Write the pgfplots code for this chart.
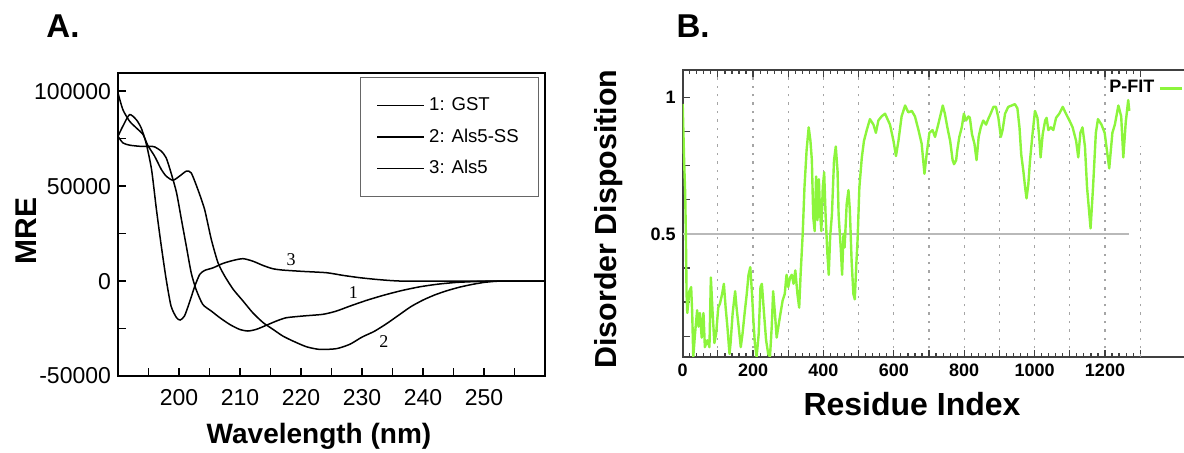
\documentclass[border=0pt]{standalone}
\usepackage{fontspec}
\setmainfont{Liberation Sans}
\newfontfamily\timesfont{Liberation Serif}
\usepackage{pgfplots}
\pgfplotsset{compat=1.18}
\definecolor{pfit}{RGB}{140,245,60}
\definecolor{gridgray}{RGB}{165,165,165}
\definecolor{halfline}{RGB}{185,185,185}

\begin{document}
\begin{tikzpicture}
% ---------------- panel A: CD spectra ----------------
\begin{axis}[
  at={(59pt,-36.5pt)}, anchor=north west,
  scale only axis, width=213.5pt, height=151.5pt,
  xmin=190, xmax=260, ymin=-50000, ymax=109600,
  axis line style={line width=0.85pt},
  tick align=inside, tick pos=left,
  scaled y ticks=false, scaled x ticks=false,
  xtick={200,210,...,250}, xticklabels={200,210,220,230,240,250},
  minor xtick={195,205,...,255},
  ytick={-50000,0,50000,100000}, yticklabels={-50000,0,50000,100000},
  minor ytick={-25000,25000,75000},
  major tick length=4pt, minor tick length=4pt,
  every tick/.style={black, line width=0.8pt},
  tick label style={font=\fontsize{11.5}{13}\selectfont},
  xticklabel style={yshift=-3pt},
  legend cell align=left,
  legend image code/.code={\draw[#1] (0pt,0pt) -- (23.5pt,0pt);},
  legend style={at={(0.567,0.987)}, anchor=north west, draw=black!60,
    line width=0.6pt, fill=white, inner xsep=8pt, inner ysep=8pt,
    row sep=3.5pt, font=\fontsize{9.3}{10}\selectfont},
  cd/.style={black, line width=0.75pt, no markers, smooth, tension=0.4},
]
\addplot[cd] coordinates {
  (190,76300) (190.8,72800) (191.9,71600) (193.6,71000) (195.2,71000)
  (196,70700) (197.1,68400) (197.9,64900) (198.7,57000) (199.6,46500)
  (200.4,32400) (201.2,18400) (202,4400) (202.8,-4400) (203.9,-12300)
  (205.3,-15800) (206.7,-19300) (208.3,-22800) (209.9,-25400) (211.3,-26300)
  (212.7,-25400) (214.3,-23300) (216,-21000) (217.6,-19300) (220.3,-18400)
  (223.6,-17500) (225.8,-15800) (228,-13200) (230.7,-10200) (233.5,-7500)
  (236.5,-5000) (239.5,-3000) (242.5,-1600) (245.5,-700) (249,-200)
  (252,0) (260,0)};
\addlegendentry{1: GST}
\addplot[cd] coordinates {
  (190,99100) (190.8,90300) (191.9,84200) (193,80700) (194.1,77200)
  (194.9,71400) (196,65800) (197.1,58800) (197.9,55300) (199,53100)
  (200.1,55300) (201.2,57900) (202,57000) (203.1,48200) (204.2,37700)
  (205.3,21900) (206.4,9600) (207.5,2600) (208.9,-4400) (210.5,-10500)
  (212.1,-16700) (213.8,-21900) (215.4,-25400) (217,-28900) (218.7,-31600)
  (220.9,-34600) (223.1,-36000) (225.8,-35600) (228,-33300) (230,-29500)
  (232,-26500) (234,-22500) (236,-18000) (238,-13500) (240,-10000)
  (242,-7200) (244,-5000) (246,-3200) (248,-1800) (250,-700)
  (252,-100) (254,0) (260,0)};
\addlegendentry{2: Als5-SS}
\addplot[cd] coordinates {
  (190,76300) (190.8,81600) (191.9,87700) (193,85000) (193.8,80700)
  (194.6,72800) (195.5,58800) (196.3,37700) (197.1,18400) (197.9,900)
  (198.7,-13200) (199.6,-19300) (200.2,-20500) (200.9,-18400) (201.7,-11400)
  (202.6,-2600) (203.4,3500) (204.2,5600) (205.6,7000) (207.2,9300)
  (208.9,10900) (210.5,11800) (212.1,10500) (213.8,8200) (215.4,6500)
  (217,5800) (220.3,5100) (224.2,4400) (226.9,3000) (229.6,1800)
  (232.3,900) (235.1,200) (238,0) (260,0)};
\addlegendentry{3: Als5}
\node[font=\timesfont\fontsize{9}{10}\selectfont] at (axis cs:218.4,11400) {3};
\node[font=\timesfont\fontsize{9}{10}\selectfont] at (axis cs:228.6,-6100) {1};
\node[font=\timesfont\fontsize{9}{10}\selectfont] at (axis cs:233.6,-31600) {2};
\end{axis}

% ---------------- panel B: disorder prediction ----------------
\begin{axis}[
  at={(341.35pt,-35pt)}, anchor=north west,
  scale only axis, width=262pt, height=143.35pt,
  xmin=0, xmax=1489, ymin=0.05, ymax=1.1,
  axis line style={draw=black!75, line width=0.8pt},
  tick align=inside, ytick pos=left,
  xtick={0,100,...,1200},
  xticklabels={0,,200,,400,,600,,800,,1000,,1200},
  extra x ticks={1300}, extra x tick labels={}, extra x tick style={grid=none},
  minor xtick={20,40,...,1280},
  xmajorgrids,
  major grid style={gridgray, dash pattern=on 1.2pt off 3pt, line width=0.6pt},
  ytick={0.125,0.25,0.375,0.5,0.625,0.75,0.875,1},
  yticklabels={,,,0.5,,,,1},
  major tick length=3.5pt, minor tick length=2pt,
  every tick/.style={black!75, line width=0.6pt},
  tick label style={font=\bfseries\fontsize{9}{10}\selectfont},
  legend plot pos=right,
  legend image code/.code={\draw[#1] (0pt,0pt) -- (11pt,0pt);},
  legend style={at={(axis cs:1422,1.033)}, anchor=east, draw=none, fill=none,
    inner sep=0pt, font=\bfseries\fontsize{9}{10}\selectfont},
]
\addplot[halfline, line width=0.9pt, forget plot] coordinates {(0,0.5) (1268,0.5)};
\addplot[gridgray, dash pattern=on 1.2pt off 3pt, line width=0.6pt, forget plot]
  coordinates {(1300,0.05) (1300,0.82)};
\addplot[pfit, line width=1.2pt, line join=round] coordinates {
  (0,0.976) (4,0.77) (7,0.65) (9,0.5) (11,0.28) (13,0.21) (19,0.29) (24,0.305)
  (27,0.21) (30,0.05) (35,0.134) (41,0.22) (45,0.16) (49,0.21) (54,0.12)
  (59,0.21) (63,0.085) (70,0.11) (76,0.085) (80,0.34) (85,0.21) (90,0.10)
  (95,0.134) (101,0.23) (106,0.245) (112,0.28) (117,0.317) (122,0.23)
  (127,0.16) (133,0.06) (136,0.10) (142,0.21) (149,0.29) (153,0.23) (159,0.16)
  (165,0.085) (170,0.134) (176,0.21) (182,0.28) (187,0.35) (192,0.378)
  (197,0.28) (201,0.18) (205,0.10) (210,0.05) (216,0.134) (221,0.305)
  (225,0.317) (231,0.21) (237,0.11) (243,0.06) (248,0.05) (253,0.16) (257,0.29)
  (262,0.21) (267,0.12) (273,0.17) (278,0.21) (284,0.256) (290,0.28) (295,0.35)
  (300,0.305) (305,0.34) (310,0.35) (315,0.317) (320,0.366) (326,0.28)
  (331,0.23) (335,0.35) (341,0.5) (346,0.67) (352,0.805) (358,0.89) (363,0.84)
  (367,0.77) (371,0.56) (375,0.51) (379,0.71) (383,0.55) (387,0.70) (390,0.585)
  (394,0.51) (398,0.67) (402,0.725) (406,0.57) (411,0.43) (415,0.35) (419,0.49)
  (424,0.57) (430,0.77) (435,0.82) (440,0.73) (443,0.57) (449,0.45) (453,0.35)
  (457,0.50) (460,0.45) (466,0.61) (471,0.66) (475,0.585) (480,0.40) (485,0.28)
  (489,0.26) (493,0.38) (497,0.48) (502,0.67) (509,0.78) (515,0.84) (523,0.88)
  (532,0.92) (542,0.90) (549,0.87) (556,0.915) (565,0.93) (575,0.94) (582,0.92)
  (589,0.90) (599,0.84) (606,0.785) (613,0.84) (622,0.93) (632,0.97) (641,0.945)
  (651,0.95) (660,0.93) (670,0.88) (679,0.83) (687,0.72) (693,0.79) (701,0.87)
  (710,0.88) (717,0.855) (726,0.90) (739,0.97) (745,0.94) (752,0.89) (760,0.84)
  (767,0.77) (771,0.755) (777,0.77) (780,0.805) (786,0.855) (793,0.89)
  (799,0.94) (805,0.915) (812,0.93) (816,0.925) (822,0.865) (829,0.83)
  (835,0.77) (841,0.855) (847,0.89) (854,0.915) (862,0.90) (868,0.92)
  (875,0.94) (883,0.965) (890,0.965) (897,0.925) (904,0.855) (909,0.88)
  (916,0.94) (925,0.965) (935,0.97) (944,0.975) (951,0.96) (957,0.89)
  (962,0.79) (968,0.73) (973,0.67) (977,0.63) (982,0.68) (987,0.77) (994,0.865)
  (1001,0.95) (1008,0.925) (1013,0.855) (1017,0.78) (1023,0.865) (1030,0.915)
  (1034,0.925) (1039,0.88) (1046,0.89) (1053,0.88) (1061,0.925) (1070,0.94)
  (1080,0.965) (1089,0.94) (1099,0.915) (1108,0.89) (1118,0.84) (1124,0.78)
  (1130,0.87) (1136,0.89) (1143,0.82) (1149,0.67) (1159,0.52) (1166,0.67)
  (1174,0.87) (1180,0.92) (1190,0.90) (1199,0.87) (1206,0.80) (1212,0.74)
  (1221,0.87) (1228,0.90) (1238,0.97) (1246,0.93) (1252,0.78) (1259,0.91)
  (1266,0.99) (1269,0.95)};
\addlegendentry{P-FIT}
\end{axis}

% ---------------- panel letters and axis titles ----------------
\node[anchor=base, font=\bfseries\fontsize{16.5}{18}\selectfont] at (31.5pt,-18.5pt) {A.};
\node[anchor=base, font=\bfseries\fontsize{16.5}{18}\selectfont] at (346.5pt,-18.5pt) {B.};
\node[anchor=base, rotate=90, font=\bfseries\fontsize{15}{17}\selectfont] at (18pt,-115.5pt) {MRE};
\node[anchor=base, font=\bfseries\fontsize{14}{16}\selectfont] at (159.5pt,-221.5pt) {Wavelength (nm)};
\node[anchor=base, rotate=90, font=\bfseries\fontsize{15.2}{17}\selectfont] at (308pt,-109.5pt) {Disorder Disposition};
\node[anchor=base, font=\bfseries\fontsize{16}{18}\selectfont] at (456pt,-207.5pt) {Residue Index};

\pgfresetboundingbox
\path[use as bounding box] (0pt,0pt) rectangle (592pt,-226pt);
\end{tikzpicture}
\end{document}
